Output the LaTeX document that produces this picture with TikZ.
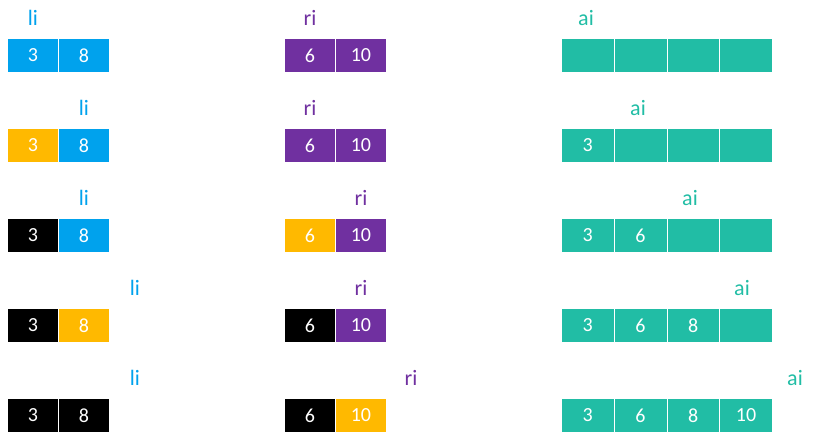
\documentclass[tikz,border=0pt]{standalone}
\usepackage{fontspec}
\setmainfont{Carlito}
\definecolor{cblue}{HTML}{00A2ED}
\definecolor{corange}{HTML}{FFB900}
\definecolor{cpurple}{HTML}{7030A0}
\definecolor{cteal}{HTML}{21BDA5}
\definecolor{cblack}{HTML}{000000}
\begin{document}
\begin{tikzpicture}[x=1pt,y=-1pt,
  cell/.style={draw=white, line width=0.8pt, minimum width=#1, minimum height=34pt,
    anchor=north west, inner sep=0pt, text=white, font=\fontsize{20}{20}\selectfont},
  lbl/.style={font=\fontsize{22}{22}\selectfont, inner sep=0pt}]
\useasboundingbox (0,0) rectangle (817,445);
\foreach \r/\y/\la/\lb/\ma/\mb/\ra/\rb/\rc/\rd/\lx/\mx/\ax in {
  1/38/cblue/cblue/cpurple/cpurple/{}/{}/{}/{}/33/310/586,
  2/128/corange/cblue/cpurple/cpurple/3/{}/{}/{}/84/310/638,
  3/218/cblack/cblue/corange/cpurple/3/6/{}/{}/84/361/690,
  4/308/cblack/corange/cblack/cpurple/3/6/8/{}/135/361/742,
  5/398/cblack/cblack/cblack/corange/3/6/8/10/135/411/795}{
  \node[cell=51pt, fill=\la] (L\r a) at (7,\y) {3};
  \node[cell=51pt, fill=\lb] (L\r b) at (58,\y) {8};
  \node[cell=51pt, fill=\ma] (M\r a) at (284,\y) {6};
  \node[cell=51pt, fill=\mb] (M\r b) at (335,\y) {10};
  \node[cell=52.75pt, fill=cteal] (R\r a) at (561,\y) {\ra};
  \node[cell=52.75pt, fill=cteal] (R\r b) at (613.75,\y) {\rb};
  \node[cell=52.75pt, fill=cteal] (R\r c) at (666.5,\y) {\rc};
  \node[cell=52.75pt, fill=cteal] (R\r d) at (719.25,\y) {\rd};
  \node[lbl, text=cblue] (li\r) at (\lx,\y-20) {li};
  \node[lbl, text=cpurple] (ri\r) at (\mx,\y-20) {ri};
  \node[lbl, text=cteal] (ai\r) at (\ax,\y-20) {ai};
}
\end{tikzpicture}
\end{document}
